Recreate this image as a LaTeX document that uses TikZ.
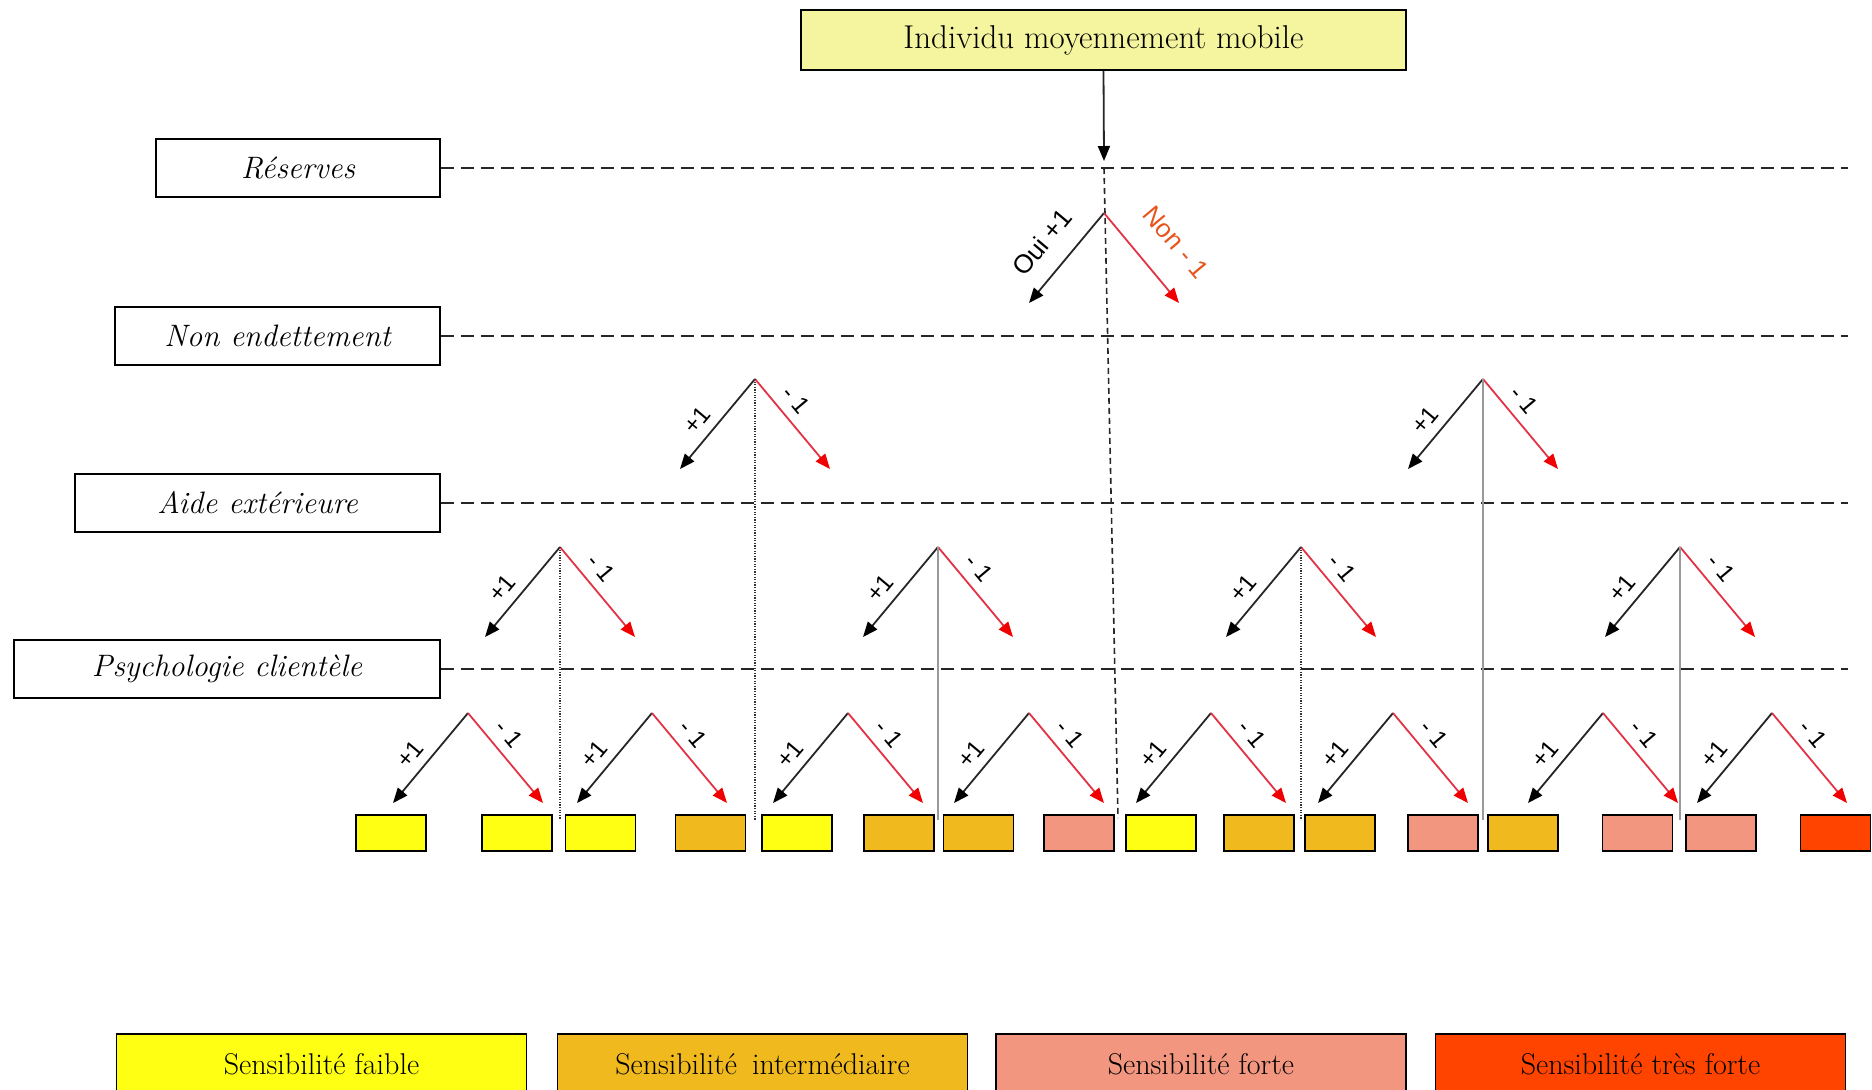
\documentclass[tikz,border=0pt]{standalone}
\usepackage{fontspec}
\newfontfamily\arialf{Liberation Sans}
\usetikzlibrary{arrows.meta,calc}
\definecolor{topfill}{RGB}{245,245,160}
\definecolor{sfaible}{RGB}{255,255,20}
\definecolor{sinter}{RGB}{240,186,30}
\definecolor{sforte}{RGB}{242,150,128}
\definecolor{stforte}{RGB}{255,68,0}
\definecolor{noline}{RGB}{225,50,70}
\definecolor{nohead}{RGB}{240,0,0}
\definecolor{nontext}{RGB}{230,85,30}
\newcommand\forkat[3]{%
  \coordinate (#1) at (#2,#3);
  \coordinate (#1-l) at ($(#1)+(-75,90)$);
  \coordinate (#1-r) at ($(#1)+(75,90)$);
  \draw[yesarrow] (#1) -- (#1-l);
  \draw[noarrow] (#1) -- (#1-r);}
\newcommand\forklbl[1]{%
  \node[smlbl, rotate=50] (#1-p) at ($(#1)+(-58,41)$) {+1};
  \node[smlbl, rotate=-50] (#1-m) at ($(#1)+(41,21)$) {- 1};}
\begin{document}
\begin{tikzpicture}[x=0.5pt,y=-0.5pt,
  box/.style={draw=black, line width=0.8pt, inner sep=0pt},
  crit/.style={box, minimum height=29pt, font=\fontsize{15.5}{17}\selectfont\itshape},
  cell/.style={box, line width=0.7pt, minimum width=35pt, minimum height=18pt},
  legend/.style={box, minimum width=205pt, minimum height=30pt, font=\fontsize{15}{17}\selectfont},
  level/.style={draw=black!85, dash pattern=on 6.5pt off 3.5pt, line width=0.9pt},
  yesarrow/.style={draw=black!85, line width=0.9pt, -{Triangle[length=7.5pt,width=6pt,color=black]}},
  noarrow/.style={draw=noline, line width=0.9pt, -{Triangle[length=7.5pt,width=6pt,color=nohead]}},
  smlbl/.style={inner sep=0pt, font=\arialf\fontsize{12}{12}\selectfont},
  toplbl/.style={inner sep=0pt, font=\arialf\fontsize{13}{13}\selectfont},
  vdot/.style={draw=black!80, line width=0.6pt, dash pattern=on 0.6pt off 0.7pt},
  vgray/.style={draw=black!40, line width=0.8pt},
  vdash/.style={draw=black!85, line width=0.8pt, dash pattern=on 3pt off 2pt}
]
\useasboundingbox (0,0) rectangle (1872,1089);
\clip (0,0) rectangle (1872,1089);

% top node
\node[box, fill=topfill, minimum width=302.5pt, minimum height=30pt,
      font=\fontsize{16.5}{19}\selectfont] (top) at (1103.5,40) {Individu moyennement mobile};

% criteria boxes
\node[crit, minimum width=142pt]   (res)  at (298,168)   {Réserves};
\node[crit, minimum width=162.5pt] (nde)  at (277.5,336) {Non endettement};
\node[crit, minimum width=182.5pt] (aide) at (257.5,503) {Aide extérieure};
\node[crit, minimum width=213pt]   (psy)  at (227,669)   {Psychologie clientèle};

\coordinate (res-end)  at (1848,168);
\coordinate (nde-end)  at (1848,336);
\coordinate (aide-end) at (1848,503);
\coordinate (psy-end)  at (1848,669);
\draw[level] (res.east)  -- (res-end);
\draw[level] (nde.east)  -- (nde-end);
\draw[level] (aide.east) -- (aide-end);
\draw[level] (psy.east)  -- (psy-end);

% vertical guide lines
\coordinate (base) at (0,820);
\coordinate (entry) at (1104,161);
\coordinate (ctop) at (1104,168);
\coordinate (cbot) at (1118,818);
\draw[yesarrow] (top.south) -- (entry);
\draw[vdash] (ctop) -- (cbot);

% forks
\forkat{A}{1104}{213}
\forkat{B1}{755}{379}
\forkat{B2}{1483}{379}
\forkat{C1}{560}{547}
\forkat{C2}{938}{547}
\forkat{C3}{1301}{547}
\forkat{C4}{1680}{547}
\forkat{D1}{468}{713}
\forkat{D2}{652}{713}
\forkat{D3}{848}{713}
\forkat{D4}{1029}{713}
\forkat{D5}{1211}{713}
\forkat{D6}{1393}{713}
\forkat{D7}{1603}{713}
\forkat{D8}{1772}{713}

\draw[vdot]  (B1) -- (B1 |- base);
\draw[vgray] (B2) -- (B2 |- base);
\draw[vdot]  (C1) -- (C1 |- base);
\draw[vgray] (C2) -- (C2 |- base);
\draw[vdot]  (C3) -- (C3 |- base);
\draw[vgray] (C4) -- (C4 |- base);

% labels
\node[toplbl, rotate=50] (A-p) at ($(A)+(-62,29)$) {Oui +1};
\node[toplbl, rotate=-50, text=nontext] (A-m) at ($(A)+(72,29)$) {Non - 1};
\forklbl{B1}\forklbl{B2}
\forklbl{C1}\forklbl{C2}\forklbl{C3}\forklbl{C4}
\forklbl{D1}\forklbl{D2}\forklbl{D3}\forklbl{D4}
\forklbl{D5}\forklbl{D6}\forklbl{D7}\forklbl{D8}

% result cells
\node[cell, fill=sfaible] (r1)  at (391,833) {};
\node[cell, fill=sfaible] (r2)  at (517,833) {};
\node[cell, fill=sfaible] (r3)  at (600.5,833) {};
\node[cell, fill=sinter]  (r4)  at (710.5,833) {};
\node[cell, fill=sfaible] (r5)  at (797,833) {};
\node[cell, fill=sinter]  (r6)  at (899,833) {};
\node[cell, fill=sinter]  (r7)  at (978.5,833) {};
\node[cell, fill=sforte]  (r8)  at (1079,833) {};
\node[cell, fill=sfaible] (r9)  at (1161,833) {};
\node[cell, fill=sinter]  (r10) at (1259,833) {};
\node[cell, fill=sinter]  (r11) at (1340,833) {};
\node[cell, fill=sforte]  (r12) at (1443,833) {};
\node[cell, fill=sinter]  (r13) at (1523,833) {};
\node[cell, fill=sforte]  (r14) at (1637.5,833) {};
\node[cell, fill=sforte]  (r15) at (1721,833) {};
\node[cell, fill=stforte] (r16) at (1835.5,833) {};

% legend
\node[legend, fill=sfaible] (lg1) at (321.5,1064) {Sensibilité faible};
\node[legend, fill=sinter]  (lg2) at (762.5,1064) {Sensibilité\enspace intermédiaire};
\node[legend, fill=sforte]  (lg3) at (1201,1064)  {Sensibilité forte};
\node[legend, fill=stforte] (lg4) at (1640.5,1064) {Sensibilité très forte};
\end{tikzpicture}
\end{document}
